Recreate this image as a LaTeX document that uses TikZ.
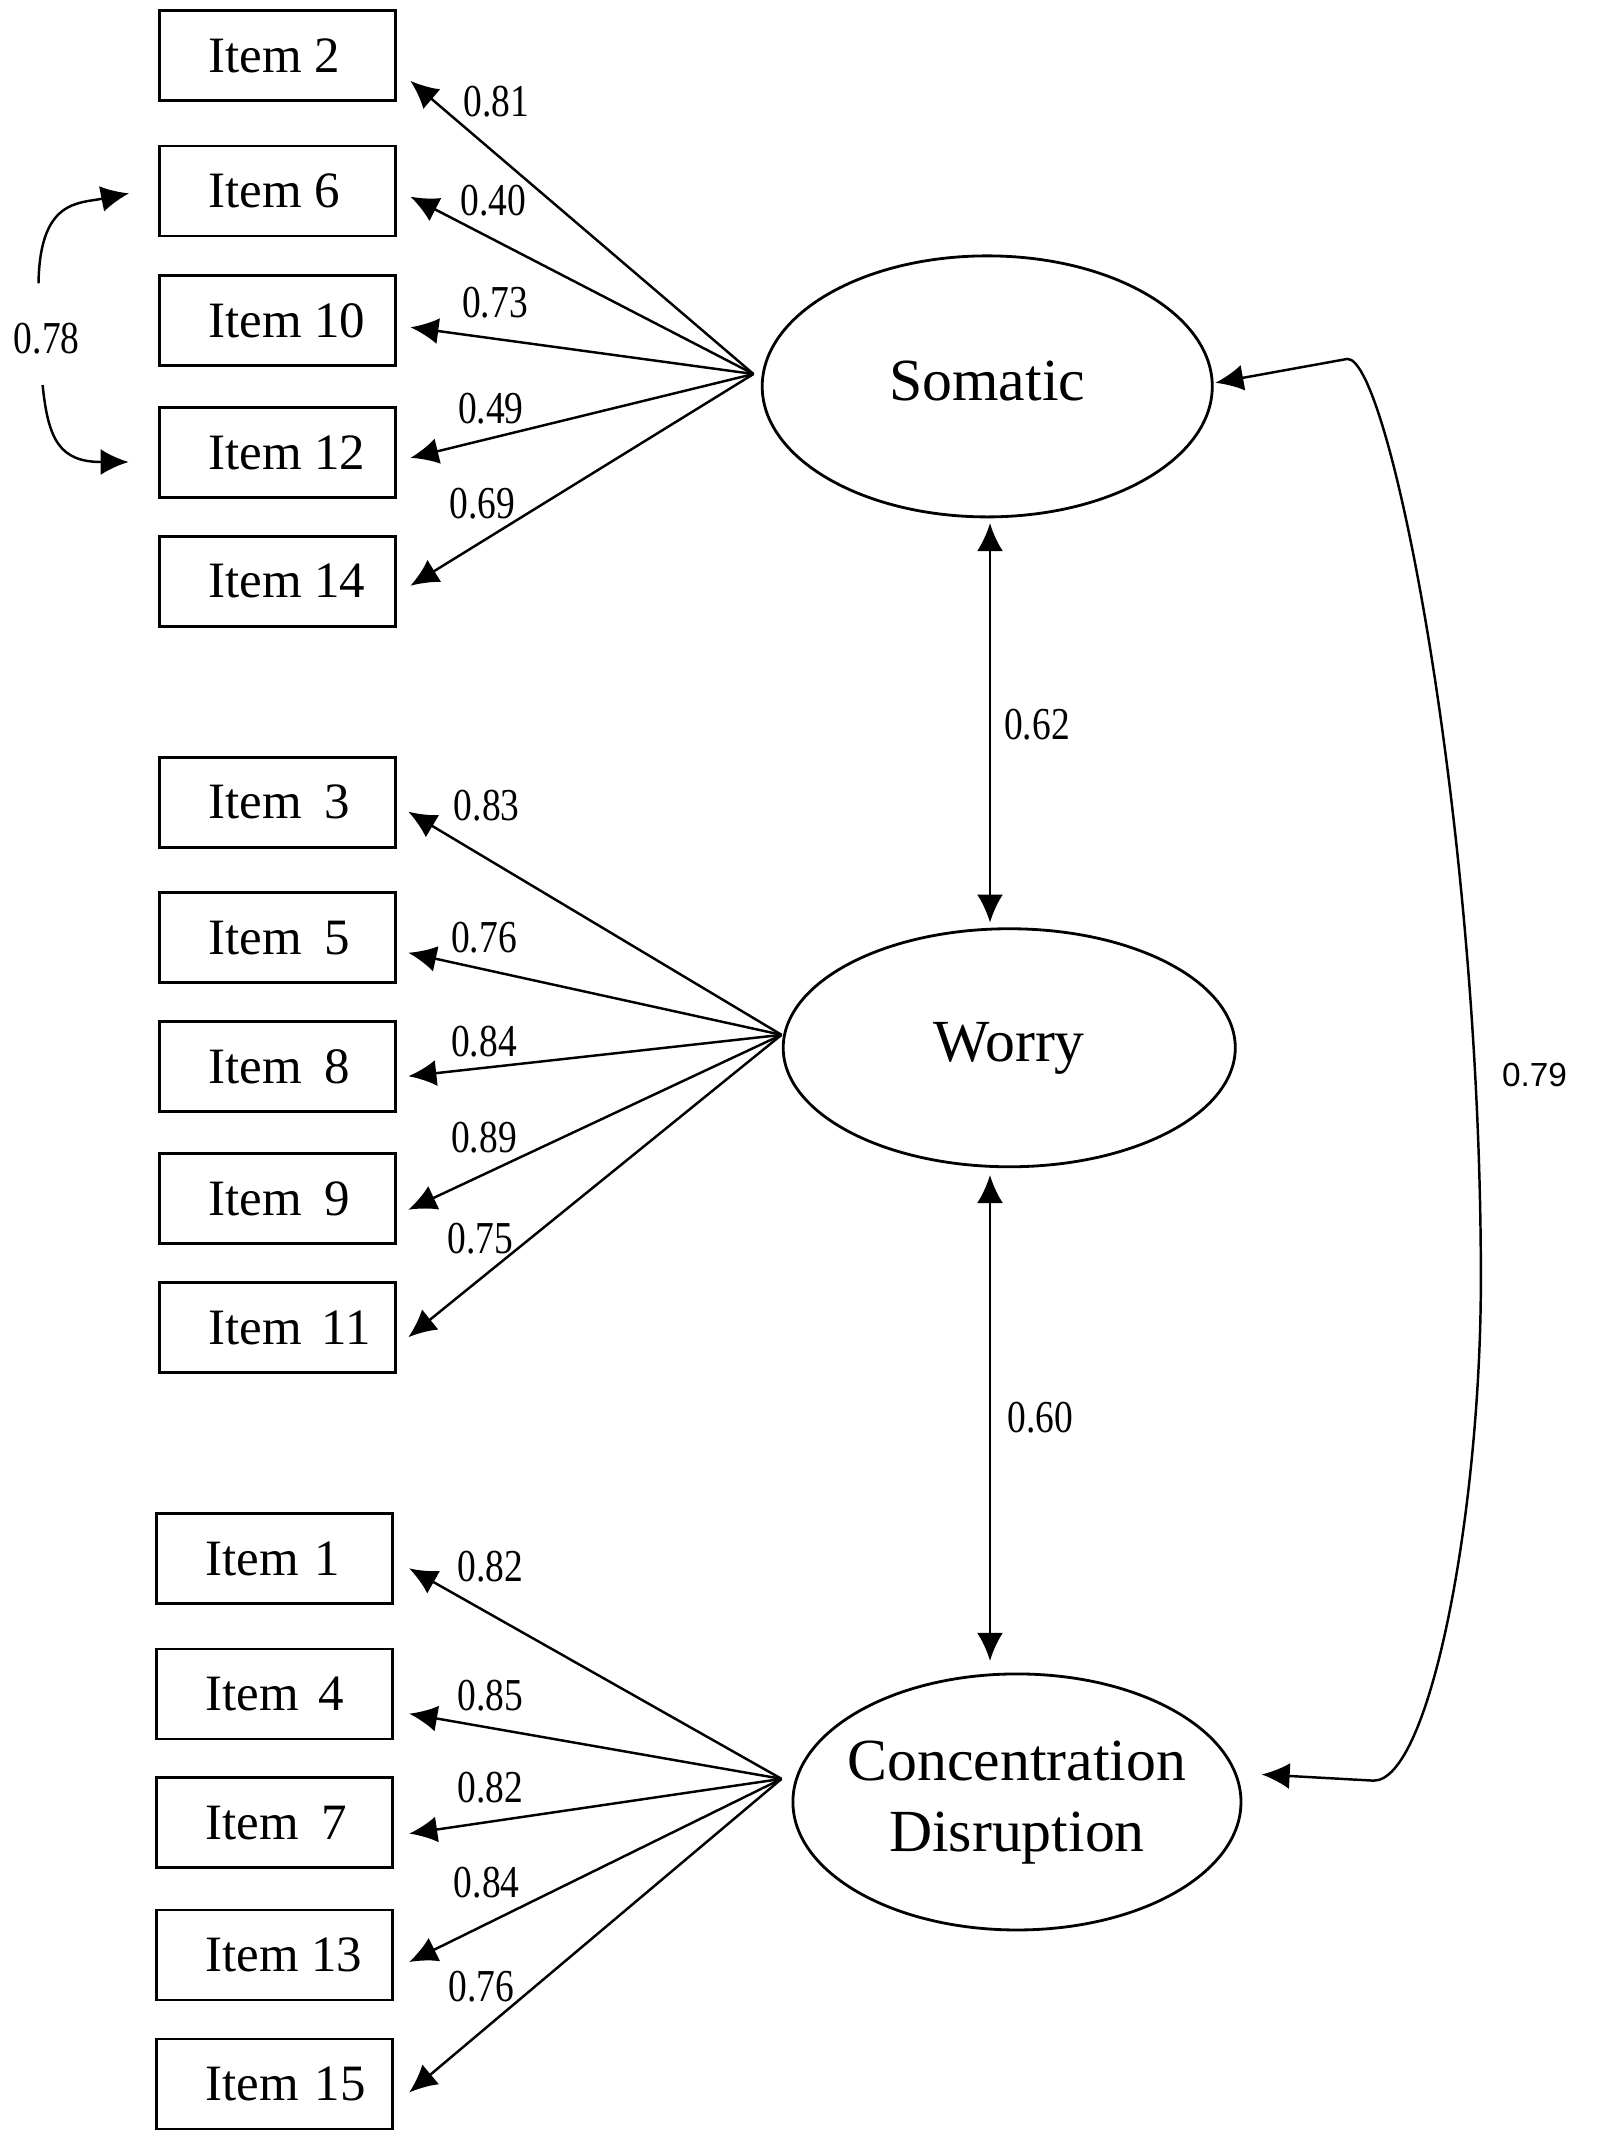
\documentclass[tikz,border=0pt]{standalone}
\usepackage{fontspec}
\setmainfont{Liberation Serif}
\newfontfamily\coeffont{Liberation Serif}[FakeStretch=0.82]
\newfontfamily\sansnum{Liberation Sans}
\usetikzlibrary{shapes.geometric,arrows.meta,calc}
\newcommand*\itm[2][0pt]{\makebox[2.36cm][l]{\hspace{0.49cm}Item \hspace{#1}#2}}
\newcommand*\lname[1]{\makebox[0pt]{\begin{tabular}{@{}c@{}}#1\end{tabular}}}
\tikzset{item/.style={draw,line width=0.75pt,minimum width=2.36cm,minimum height=0.9cm,
                      inner sep=0pt,font=\fontsize{14.5}{17}\selectfont},
         latent/.style={draw,ellipse,line width=0.8pt,inner sep=0pt,
                        font=\fontsize{17}{20}\selectfont},
         load/.style={-{Latex[length=2.8mm,width=2.6mm]},line width=0.7pt},
         corr/.style={{Latex[length=2.8mm,width=2.6mm]}-{Latex[length=2.8mm,width=2.6mm]},
                      line width=0.7pt},
         coef/.style={font=\coeffont\fontsize{13}{15}\selectfont,inner sep=0pt}}

\begin{document}
\begin{tikzpicture}[x=0.013746cm,y=0.013746cm]
\useasboundingbox (0,0) rectangle (1164,-1568);
\node[latent,minimum width=4.50cm,minimum height=2.61cm] (somatic) at (718,-281) {\lname{Somatic}};
\node[latent,minimum width=4.52cm,minimum height=2.38cm] (worry) at (734,-762) {\lname{Worry}};
\node[latent,minimum width=4.48cm,minimum height=2.56cm] (conc) at (739.6,-1310.5)
     {\lname{Concentration\\Disruption}};
\coordinate (sfan) at (548,-272);
\coordinate (wfan) at (568.4,-752.6);
\coordinate (cfan) at (568.4,-1293.7);
\foreach \n/\y/\dy/\v/\lx/\ly in {2/40.5/18.3/0.81/361/74,6/139/4/0.40/359/146,
        10/233/5/0.73/360/220,12/329/4/0.49/357/297,14/422.8/3.2/0.69/351/366}{
  \node[item] (i\n) at (201.7,-\y) {\itm{\n}};
  \draw[load] (sfan) -- ($(i\n.east)+(10,-\dy)$);
  \node[coef] (l\n) at (\lx,-\ly) {\v};
}
\foreach \n/\y/\dy/\v/\lx/\ly/\g in {3/583.5/6.8/0.83/354/585.8/3pt,5/682/10.9/0.76/352/682.2/3pt,
        8/775.6/7.1/0.84/352/757.2/3pt,9/871.6/8.2/0.89/352/827.7/3pt,11/965.5/7/0.75/349.5/901.1/2pt}{
  \node[item] (i\n) at (201.7,-\y) {\itm[\g]{\n}};
  \draw[load] (wfan) -- ($(i\n.east)+(8.5,-\dy)$);
  \node[coef] (l\n) at (\lx,-\ly) {\v};
}
\foreach \n/\y/\dy/\v/\lx/\ly/\g in {1/1133.4/7.2/0.82/356.5/1139/1pt,4/1232/14.3/0.85/356.5/1233/2pt,
        7/1325.5/8/0.82/356.5/1299.8/3pt,13/1421.8/5.1/0.84/354/1369.4/0pt,15/1515.7/6.1/0.76/350/1444.6/1pt}{
  \node[item] (i\n) at (199.5,-\y) {\itm[\g]{\n}};
  \draw[load] (cfan) -- ($(i\n.east)+(11.3,-\dy)$);
  \node[coef] (l\n) at (\lx,-\ly) {\v};
}
\node[coef] (c78) at (34,-246) {0.78};
\draw[load] ($(c78)+(-6,40)$) .. controls +(1,61) and +(-37,-7.4) .. ($(i6.west)+(-21,-1.6)$);
\draw[load] ($(c78)+(-3,-34)$) .. controls +(4,-40) and +(-50,0) .. ($(i12.west)+(-21.4,-7)$);
\draw[corr] ($(somatic.south)+(2,-3.5)$) -- ($(worry.north)+(-14,3.5)$);
\node[coef] (r62) at (754.2,-527) {0.62};
\draw[corr] ($(worry.south)+(-14,-5)$) -- ($(conc.north)+(-19.6,8.5)$);
\node[coef] (r60) at (756.6,-1031) {0.60};
\coordinate (b1) at (980,-261);
\coordinate (b2) at (1077,-930);
\coordinate (b3) at (999,-1295);
\draw[corr] ($(somatic.east)+(1.2,2.6)$) -- (b1) .. controls +(31,0) and +(0,330) .. (b2)
            .. controls +(0,-170) and +(41,0) .. (b3) -- ($(conc.east)+(14,20)$);
\node[font=\sansnum\fontsize{9.5}{11}\selectfont,inner sep=0pt] (r79) at (1116,-782) {0.79};
\end{tikzpicture}
\end{document}
